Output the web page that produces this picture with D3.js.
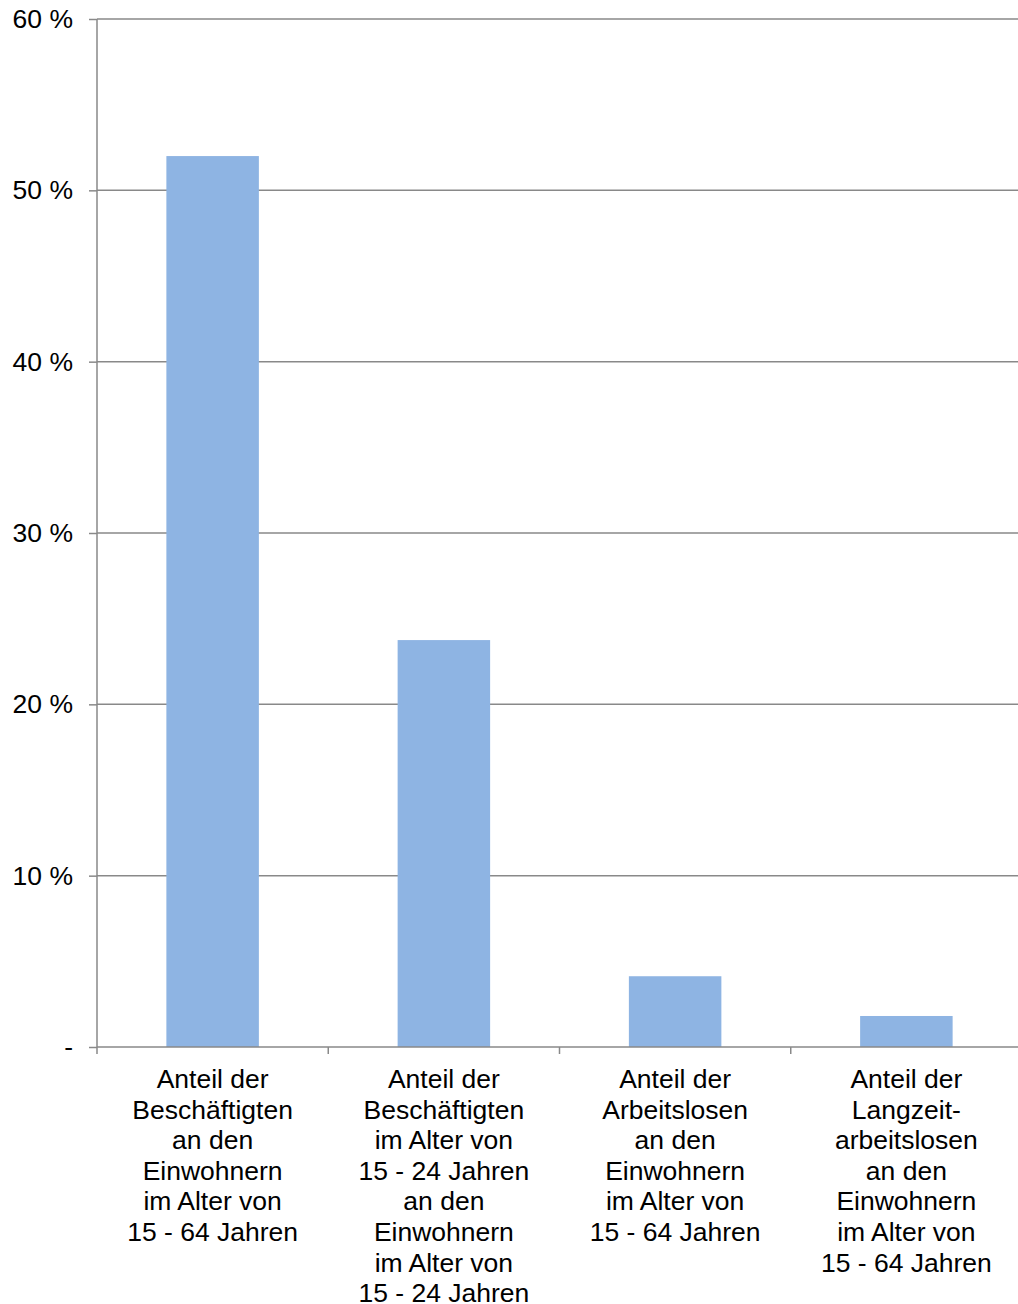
<!DOCTYPE html>
<html>
<head>
<meta charset="utf-8">
<script src="https://cdn.jsdelivr.net/npm/d3@7"></script>
<style>
  html, body { margin: 0; padding: 0; background: #ffffff; }
  svg { display: block; }
  text { font-family: "Liberation Sans", Arial, sans-serif; fill: #000; }
</style>
</head>
<body>
<div id="chart"></div>
<script>
const categories = [
  ['Anteil der', 'Beschäftigten', 'an den', 'Einwohnern', 'im Alter von', '15 - 64 Jahren'],
  ['Anteil der', 'Beschäftigten', 'im Alter von', '15 - 24 Jahren', 'an den', 'Einwohnern', 'im Alter von', '15 - 24 Jahren'],
  ['Anteil der', 'Arbeitslosen', 'an den', 'Einwohnern', 'im Alter von', '15 - 64 Jahren'],
  ['Anteil der', 'Langzeit-', 'arbeitslosen', 'an den', 'Einwohnern', 'im Alter von', '15 - 64 Jahren']
];
const values = [52.0, 23.75, 4.13, 1.81];
const yTicks = [0, 10, 20, 30, 40, 50, 60];
const yTickLabels = ['-', '10 %', '20 %', '30 %', '40 %', '50 %', '60 %'];

const width = 1018;
const height = 1304;
const margin = { top: 19, right: -4, bottom: 257, left: 97 };
const gridColor = '#898989';

const svg = d3.select('#chart')
  .append('svg')
  .attr('width', width)
  .attr('height', height);

const x = d3.scaleBand()
  .domain(d3.range(categories.length))
  .range([margin.left, width - margin.right])
  .paddingInner(0.6)
  .paddingOuter(0.3);

const y = d3.scaleLinear()
  .domain([0, 60])
  .range([height - margin.bottom, margin.top]);

// gridlines
svg.append('g')
  .selectAll('line')
  .data(yTicks.slice(1))
  .join('line')
  .attr('x1', margin.left)
  .attr('x2', width)
  .attr('y1', d => y(d))
  .attr('y2', d => y(d))
  .attr('stroke', gridColor)
  .attr('stroke-width', 1.5);

// bars
svg.append('g')
  .selectAll('rect')
  .data(values)
  .join('rect')
  .attr('x', (d, i) => x(i))
  .attr('y', d => y(d))
  .attr('width', x.bandwidth())
  .attr('height', d => y(0) - y(d))
  .attr('fill', '#8eb4e3');

// y axis
const yAxis = svg.append('g')
  .attr('transform', `translate(${margin.left},0)`)
  .call(d3.axisLeft(y)
    .tickValues(yTicks)
    .tickFormat((d, i) => yTickLabels[i])
    .tickSize(8)
    .tickPadding(16));
yAxis.select('.domain')
  .attr('stroke', gridColor)
  .attr('stroke-width', 1.5)
  .attr('d', `M0,${y(60)}V${y(0) + 7}`);
yAxis.selectAll('.tick line').attr('stroke', gridColor).attr('stroke-width', 1.5);
yAxis.selectAll('.tick text')
  .attr('font-size', 26.5)
  .attr('font-family', '"Liberation Sans", Arial, sans-serif')
  .attr('fill', '#000');

// x axis
const step = x.step();
const xBounds = d3.range(categories.length + 1).map(i => margin.left + i * step);
const xAxis = svg.append('g');
xAxis.append('line')
  .attr('x1', margin.left)
  .attr('x2', width)
  .attr('y1', y(0))
  .attr('y2', y(0))
  .attr('stroke', gridColor)
  .attr('stroke-width', 1.5);
xAxis.selectAll('line.tick')
  .data(xBounds.slice(1, categories.length))
  .join('line')
  .attr('class', 'tick')
  .attr('x1', d => d)
  .attr('x2', d => d)
  .attr('y1', y(0))
  .attr('y2', y(0) + 7)
  .attr('stroke', gridColor)
  .attr('stroke-width', 1.5);

// category labels
const lineHeight = 30.6;
const labels = svg.append('g')
  .selectAll('text')
  .data(categories)
  .join('text')
  .attr('text-anchor', 'middle')
  .attr('font-size', 26.5)
  .attr('x', (d, i) => x(i) + x.bandwidth() / 2)
  .attr('y', y(0) + 41);
labels.selectAll('tspan')
  .data((d, i) => d.map(t => ({ t, i })))
  .join('tspan')
  .attr('x', d => x(d.i) + x.bandwidth() / 2)
  .attr('dy', (d, j) => j === 0 ? 0 : lineHeight)
  .text(d => d.t);
</script>
</body>
</html>
